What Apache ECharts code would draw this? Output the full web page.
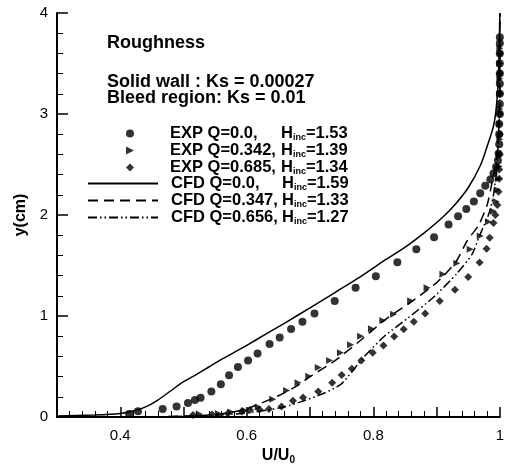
<!DOCTYPE html>
<html><head><meta charset="utf-8">
<script src="https://cdn.jsdelivr.net/npm/echarts@6/dist/echarts.min.js"></script>
<style>html,body{margin:0;padding:0;background:#fff}#c{width:507px;height:470px}</style>
</head><body><div id="c"></div>
<script>
// ---- data ----
const expQ0 = [[0.414,0.03],[0.428,0.057],[0.467,0.08],[0.489,0.105],[0.507,0.139],[0.518,0.168],[0.527,0.19],[0.544,0.252],[0.559,0.325],[0.572,0.413],[0.586,0.494],[0.602,0.559],[0.617,0.628],[0.636,0.722],[0.652,0.787],[0.670,0.872],[0.688,0.944],[0.707,1.025],[0.739,1.149],[0.772,1.279],[0.804,1.394],[0.838,1.531],[0.868,1.661],[0.896,1.78],[0.919,1.905],[0.934,1.987],[0.947,2.06],[0.959,2.134],[0.969,2.215],[0.977,2.29],[0.985,2.352],[0.990,2.41],[0.994,2.476],[0.997,2.54],[0.998,2.606],[0.999,2.70],[0.999,2.80],[0.999,2.90],[1.0,3.0],[1.0,3.1],[1.0,3.2],[1.0,3.3],[1.0,3.4],[1.0,3.5],[1.0,3.6],[1.0,3.7],[1.0,3.76]];
const expQ342 = [[0.525,0.03],[0.555,0.035],[0.575,0.05],[0.597,0.065],[0.618,0.10],[0.641,0.175],[0.663,0.262],[0.681,0.34],[0.698,0.403],[0.713,0.49],[0.731,0.56],[0.748,0.637],[0.764,0.716],[0.780,0.80],[0.797,0.873],[0.815,0.956],[0.832,1.018],[0.859,1.152],[0.885,1.279],[0.910,1.413],[0.932,1.522],[0.953,1.661],[0.969,1.792],[0.982,1.932],[0.990,2.036],[0.994,2.134],[0.996,2.25],[0.998,2.36],[0.999,2.48],[0.999,2.6],[1.0,2.75],[1.0,2.9],[1.0,3.05],[1.0,3.2],[1.0,3.35],[1.0,3.5],[1.0,3.65]];
const expQ685 = [[0.515,0.02],[0.545,0.025],[0.570,0.035],[0.592,0.055],[0.605,0.07],[0.620,0.075],[0.635,0.08],[0.655,0.105],[0.673,0.16],[0.689,0.194],[0.713,0.252],[0.735,0.34],[0.750,0.417],[0.766,0.477],[0.781,0.559],[0.799,0.637],[0.816,0.708],[0.833,0.797],[0.848,0.868],[0.864,0.944],[0.882,1.025],[0.905,1.149],[0.929,1.26],[0.950,1.387],[0.968,1.53],[0.979,1.665],[0.984,1.775],[0.990,1.92],[0.993,2.0],[0.996,2.1],[0.998,2.23],[0.999,2.36],[0.999,2.45],[1.0,2.6],[1.0,2.8],[1.0,3.0],[1.0,3.2],[1.0,3.4],[1.0,3.6]];
const cfdQ0 = [[0.30,0.01],[0.36,0.02],[0.40,0.035],[0.42,0.06],[0.44,0.10],[0.46,0.17],[0.48,0.26],[0.50,0.35],[0.52,0.42],[0.54,0.495],[0.56,0.57],[0.58,0.64],[0.60,0.71],[0.63,0.82],[0.66,0.93],[0.70,1.08],[0.74,1.235],[0.78,1.39],[0.82,1.56],[0.85,1.68],[0.88,1.82],[0.91,1.98],[0.93,2.11],[0.95,2.27],[0.97,2.50],[0.98,2.68],[0.99,2.88],[0.995,3.1],[0.998,3.4],[1.0,4.0]];
const cfdQ347 = [[0.45,0.0],[0.50,0.01],[0.54,0.02],[0.57,0.04],[0.60,0.08],[0.62,0.13],[0.65,0.21],[0.68,0.31],[0.70,0.40],[0.74,0.56],[0.78,0.76],[0.82,0.97],[0.86,1.14],[0.90,1.33],[0.93,1.53],[0.948,1.74],[0.967,1.905],[0.98,2.10],[0.987,2.30],[0.994,2.52],[0.998,2.8],[1.0,3.2],[1.0,4.0]];
const cfdQ656 = [[0.45,0.0],[0.52,0.01],[0.56,0.02],[0.60,0.04],[0.634,0.07],[0.66,0.10],[0.69,0.16],[0.72,0.23],[0.749,0.325],[0.786,0.60],[0.817,0.797],[0.854,0.976],[0.896,1.19],[0.932,1.42],[0.956,1.61],[0.969,1.81],[0.982,2.0],[0.990,2.2],[0.995,2.46],[0.998,2.8],[1.0,3.2],[1.0,4.0]];

const seriesNames = ['EXP Q=0.0,', 'EXP Q=0.342,', 'EXP Q=0.685,', 'CFD Q=0.0,', 'CFD Q=0.347,', 'CFD Q=0.656,'];
const hIncValues = ['1.53', '1.39', '1.34', '1.59', '1.33', '1.27'];
const xTickValues = [0.4, 0.6, 0.8, 1.0];
const xTickLabels = ['0.4', '0.6', '0.8', '1'];
const yTickValues = [0, 1, 2, 3, 4];
const yTickLabels = ['0', '1', '2', '3', '4'];
const headerLines = ['Roughness', 'Solid wall : Ks = 0.00027', 'Bleed region: Ks = 0.01'];

// ---- chart ----
const FONT = 'Liberation Sans, Arial, Helvetica, sans-serif';
const chart = echarts.init(document.getElementById('c'), null, {renderer: 'canvas'});

function legendFormatter(name) {
  const i = seriesNames.indexOf(name);
  return '{g| }{a|' + name + '}{h|H}{s|inc}{v|=' + hIncValues[i] + '}';
}
function legendRich(gap) {
  const LH = 16.67;
  const base = {fontSize: 16.5, fontWeight: 'bold', fontFamily: FONT, color: '#000', lineHeight: LH};
  return {
    g: {width: gap, lineHeight: LH, fontSize: 10},
    a: Object.assign({width: 111}, base),
    h: base,
    s: {fontSize: 9, fontWeight: 'bold', fontFamily: FONT, color: '#000', lineHeight: 6, verticalAlign: 'bottom'},
    v: base
  };
}
function tickFmt(values, labels) {
  return function (v) {
    const i = values.findIndex(t => Math.abs(t - v) < 1e-6);
    return i >= 0 ? labels[i] : '';
  };
}

const option = {
  animation: false,
  backgroundColor: '#fff',
  grid: {left: 57, right: 4, top: 13, bottom: 48.5, containLabel: false},
  xAxis: {
    type: 'value', min: 0.3, max: 1.0, interval: 0.1,
    name: '{u|U/U}{z|0}', nameLocation: 'middle', nameGap: 30,
    nameTextStyle: {rich: {
      u: {fontSize: 16, fontWeight: 'bold', fontFamily: FONT, color: '#000', lineHeight: 18},
      z: {fontSize: 10, fontWeight: 'bold', fontFamily: FONT, color: '#000', lineHeight: 8, verticalAlign: 'bottom'}
    }},
    axisLine: {lineStyle: {color: '#000', width: 2}},
    axisTick: {inside: true, length: 10, lineStyle: {color: '#000', width: 1.5}},
    minorTick: {show: true, splitNumber: 5, length: 6, lineStyle: {color: '#000', width: 1}},
    splitLine: {show: false},
    axisLabel: {margin: 11, fontSize: 15, fontFamily: FONT, color: '#000', formatter: tickFmt(xTickValues, xTickLabels)}
  },
  yAxis: {
    type: 'value', min: 0, max: 4, interval: 1,
    name: 'y(cm)', nameLocation: 'middle', nameGap: 26, nameRotate: 90,
    nameTextStyle: {fontSize: 16, fontWeight: 'bold', fontFamily: FONT, color: '#000'},
    axisLine: {show: true, lineStyle: {color: '#000', width: 2}},
    axisTick: {show: true, inside: true, length: 11, lineStyle: {color: '#000', width: 1.5}},
    minorTick: {show: true, splitNumber: 5, length: 6, lineStyle: {color: '#000', width: 1}},
    splitLine: {show: false},
    axisLabel: {margin: 9, fontSize: 15, fontFamily: FONT, color: '#000', formatter: tickFmt(yTickValues, yTickLabels)}
  },
  legend: [
    {
      data: [
        {name: seriesNames[0], icon: 'circle'},
        {name: seriesNames[1], icon: 'path://M0,0L10,5L0,10Z'},
        {name: seriesNames[2], icon: 'diamond'}
      ],
      orient: 'vertical', left: 126, top: 125, padding: 0,
      itemWidth: 8, itemHeight: 8, itemGap: 0, selectedMode: false,
      formatter: legendFormatter,
      textStyle: {rich: legendRich(31)}
    },
    {
      data: seriesNames.slice(3), orient: 'vertical', left: 87, top: 175, padding: 0,
      itemWidth: 70, itemHeight: 8, itemGap: 0, selectedMode: false,
      itemStyle: {color: 'rgba(0,0,0,0)', borderWidth: 0, opacity: 0},
      formatter: legendFormatter,
      textStyle: {rich: legendRich(8)}
    }
  ],
  graphic: [
    {type: 'text', x: 107, y: 43, style: {text: headerLines[0], font: 'bold 18px ' + FONT, fill: '#000', verticalAlign: 'middle'}},
    {type: 'text', x: 107, y: 82, style: {text: headerLines[1], font: 'bold 18px ' + FONT, fill: '#000', verticalAlign: 'middle'}},
    {type: 'text', x: 107, y: 98.5, style: {text: headerLines[2], font: 'bold 18px ' + FONT, fill: '#000', verticalAlign: 'middle'}}
  ],
  series: [
    {name: seriesNames[0], type: 'scatter', data: expQ0, symbol: 'circle', symbolSize: 8, clip: false,
     itemStyle: {color: '#000'}},
    {name: seriesNames[1], type: 'scatter', data: expQ342, symbol: 'triangle', symbolRotate: -90, symbolSize: 7, clip: false,
     itemStyle: {color: '#000'}},
    {name: seriesNames[2], type: 'scatter', data: expQ685, symbol: 'diamond', symbolSize: 8, clip: false,
     itemStyle: {color: '#000'}},
    {name: seriesNames[3], type: 'line', data: cfdQ0, symbol: 'none', showSymbol: false, smooth: 0.2, clip: false,
     itemStyle: {color: '#000'}, lineStyle: {color: '#000', width: 1.5, type: 'solid'}},
    {name: seriesNames[4], type: 'line', data: cfdQ347, symbol: 'none', showSymbol: false, smooth: 0.2, clip: false,
     itemStyle: {color: '#000'}, lineStyle: {color: '#000', width: 1.5, type: [10, 6]}},
    {name: seriesNames[5], type: 'line', data: cfdQ656, symbol: 'none', showSymbol: false, smooth: 0.2, clip: false,
     itemStyle: {color: '#000'}, lineStyle: {color: '#000', width: 1.5, type: [9, 3, 1.5, 3, 1.5, 3]}}
  ]
};
chart.setOption(option);
</script>
</body></html>
